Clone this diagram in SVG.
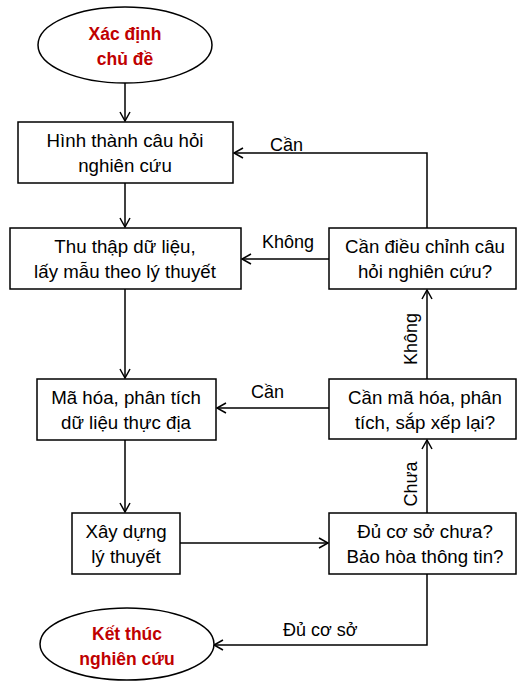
<svg xmlns="http://www.w3.org/2000/svg" width="517" height="681" viewBox="0 0 517 681">
<style>
.box{fill:#fff;stroke:#000;stroke-width:1.5}
.t{font-family:"Liberation Sans",Arial,sans-serif;font-size:18.7px;fill:#000;text-anchor:middle}
.r{font-family:"Liberation Sans",Arial,sans-serif;font-size:17.5px;font-weight:bold;fill:#C00000;text-anchor:middle}
.c{fill:none;stroke:#000;stroke-width:1.5}
.l{font-family:"Liberation Sans",Arial,sans-serif;font-size:18px;fill:#000}
</style>
<defs>
<marker id="a" markerUnits="userSpaceOnUse" markerWidth="14" markerHeight="14" refX="10" refY="6" orient="auto">
<path d="M1,1 L10,6 L1,11" fill="none" stroke="#000" stroke-width="1.5"/>
</marker>
</defs>
<g id="connectors">
<line class="c" x1="125" y1="83" x2="125" y2="121" marker-end="url(#a)"/>
<line class="c" x1="125" y1="183" x2="125" y2="227" marker-end="url(#a)"/>
<line class="c" x1="125" y1="289" x2="125" y2="378" marker-end="url(#a)"/>
<line class="c" x1="125" y1="440" x2="125" y2="512" marker-end="url(#a)"/>
<line class="c" x1="180" y1="543" x2="328" y2="543" marker-end="url(#a)"/>
<line class="c" x1="427" y1="513" x2="427" y2="440" marker-end="url(#a)"/>
<line class="c" x1="427" y1="379" x2="427" y2="290" marker-end="url(#a)"/>
<line class="c" x1="329" y1="408" x2="217" y2="408" marker-end="url(#a)"/>
<line class="c" x1="329" y1="259" x2="242" y2="259" marker-end="url(#a)"/>
<polyline class="c" points="427,228 427,153 234,153" marker-end="url(#a)"/>
<polyline class="c" points="427,574 427,645 214,645" marker-end="url(#a)"/>
<text class="l" x="270" y="151">Cần</text>
<text class="l" x="262" y="248">Không</text>
<text class="l" x="251" y="398">Cần</text>
<text class="l" x="283" y="636">Đủ cơ sở</text>
<text class="l" transform="translate(417,339) rotate(-90)" text-anchor="middle">Không</text>
<text class="l" transform="translate(417,484) rotate(-90)" text-anchor="middle">Chưa</text>
</g>
<g id="start">
<ellipse class="box" cx="125" cy="45" rx="87" ry="38"/>
<text class="r" x="125" y="40">Xác định</text>
<text class="r" x="125" y="65">chủ đề</text>
</g>
<g id="n1">
<rect class="box" x="18" y="122" width="215" height="61"/>
<text class="t" x="125" y="147">Hình thành câu hỏi</text>
<text class="t" x="125" y="172">nghiên cứu</text>
</g>
<g id="n2">
<rect class="box" x="10" y="228" width="231" height="61"/>
<text class="t" x="125" y="253">Thu thập dữ liệu,</text>
<text class="t" x="125" y="278">lấy mẫu theo lý thuyết</text>
</g>
<g id="n3">
<rect class="box" x="37" y="379" width="179" height="61"/>
<text class="t" x="126" y="404">Mã hóa, phân tích</text>
<text class="t" x="126" y="429">dữ liệu thực địa</text>
</g>
<g id="n4">
<rect class="box" x="72" y="513" width="108" height="61"/>
<text class="t" x="126" y="538">Xây dựng</text>
<text class="t" x="126" y="563">lý thuyết</text>
</g>
<g id="d1">
<rect class="box" x="329" y="228" width="187" height="61"/>
<text class="t" x="425" y="253">Cần điều chỉnh câu</text>
<text class="t" x="425" y="278">hỏi nghiên cứu?</text>
</g>
<g id="d2">
<rect class="box" x="329" y="379" width="187" height="60"/>
<text class="t" x="425" y="404">Cần mã hóa, phân</text>
<text class="t" x="425" y="429">tích, sắp xếp lại?</text>
</g>
<g id="d3">
<rect class="box" x="329" y="513" width="187" height="61"/>
<text class="t" x="425" y="538">Đủ cơ sở chưa?</text>
<text class="t" x="425" y="563">Bảo hòa thông tin?</text>
</g>
<g id="end">
<ellipse class="box" cx="127" cy="644" rx="87" ry="36"/>
<text class="r" x="127" y="640">Kết thúc</text>
<text class="r" x="127" y="665">nghiên cứu</text>
</g>
</svg>
